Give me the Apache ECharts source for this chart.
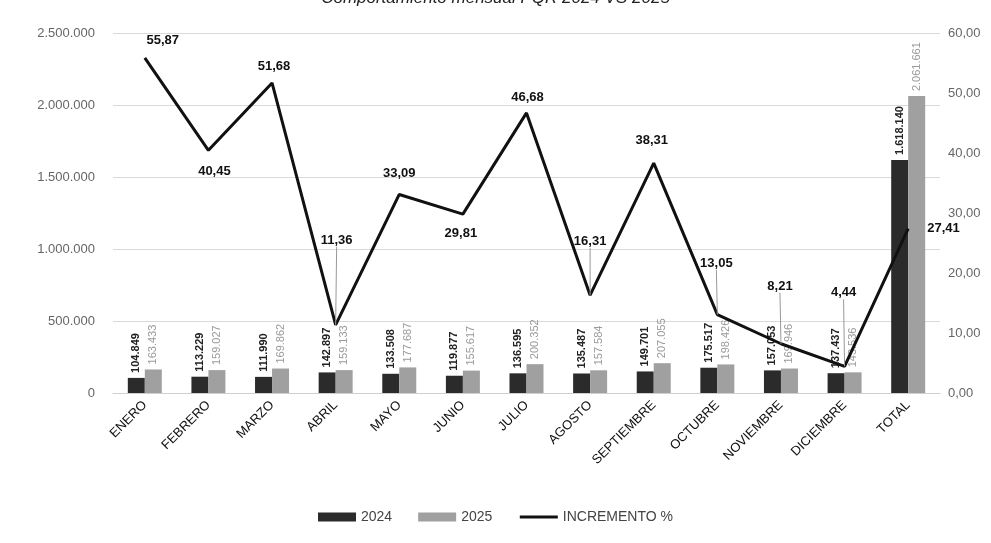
<!DOCTYPE html>
<html>
<head>
<meta charset="utf-8">
<script src="https://cdn.jsdelivr.net/npm/echarts@6/dist/echarts.min.js"></script>
<style>html,body{margin:0;padding:0;background:#fff;}#c{width:991px;height:543px;}</style>
</head>
<body>
<div id="c"></div>
<script>
const categories = ['ENERO','FEBRERO','MARZO','ABRIL','MAYO','JUNIO','JULIO','AGOSTO','SEPTIEMBRE','OCTUBRE','NOVIEMBRE','DICIEMBRE','TOTAL'];
const values2024 = [104849,113229,111990,142897,133508,119877,136595,135487,149701,175517,157053,137437,1618140];
const values2025 = [163433,159027,169862,159133,177687,155617,200352,157584,207055,198426,169946,143536,2061661];
const incremento = [55.87,40.45,51.68,11.36,33.09,29.81,46.68,16.31,38.31,13.05,8.21,4.44,27.41];
const leftTicks = [0,500000,1000000,1500000,2000000,2500000];
const rightTicks = [0,10,20,30,40,50,60];

function fmtInt(v){ return String(Math.round(v)).replace(/\B(?=(\d{3})+(?!\d))/g,'.'); }
function fmtDec(v){ return v.toFixed(2).replace('.',','); }

// label layout offsets for the line labels (style only)
const lblShift = [[18,-6],[6,33],[2,-5],[1,-73],[0,-10],[-2,31],[1,-4],[0,-42],[-2,-11],[-1,-40],[-1,-46],[-1,-62],[14,0]];
const lblLeader = [false,false,false,true,false,false,false,true,false,true,true,true,false];

const lineData = incremento.map((v,i)=>({
  value: v,
  label: { position: i===incremento.length-1 ? 'right' : 'top' },
  labelLine: { show: lblLeader[i] }
}));

const FONT = 'Liberation Sans, Arial, sans-serif';
const chart = echarts.init(document.getElementById('c'));
chart.setOption({
  animation: false,
  backgroundColor: '#fff',
  title: {
    text: 'Comportamiento mensual PQR 2024 VS 2025',
    left: 'center', top: -15,
    textStyle: { fontFamily: FONT, fontStyle: 'italic', fontWeight: 'normal', fontSize: 17, color: '#222' }
  },
  legend: {
    bottom: 14, left: 'center', itemGap: 26,
    textStyle: { fontFamily: FONT, fontSize: 14, color: '#444' },
    data: [
      { name: '2024', icon: 'rect', itemStyle: { color: '#2b2b2b' } },
      { name: '2025', icon: 'rect', itemStyle: { color: '#a0a0a0' } },
      { name: 'INCREMENTO %', itemStyle: { opacity: 0 }, lineStyle: { color: '#111', width: 3 } }
    ],
    itemWidth: 38, itemHeight: 9
  },
  grid: { left: 113, right: 51, top: 33, bottom: 150, containLabel: false },
  xAxis: {
    type: 'category', data: categories,
    axisLine: { lineStyle: { color: '#cfcfcf' } },
    axisTick: { show: false },
    axisLabel: { rotate: 45, fontFamily: FONT, fontSize: 13, color: '#111', margin: 10, interval: 0 }
  },
  yAxis: [
    {
      type: 'value', min: leftTicks[0], max: leftTicks[leftTicks.length-1], interval: leftTicks[1]-leftTicks[0],
      axisLine: { show: false }, axisTick: { show: false },
      splitLine: { lineStyle: { color: '#d9d9d9' } },
      axisLabel: { fontFamily: FONT, fontSize: 13, color: '#666', margin: 18, formatter: v => fmtInt(v) }
    },
    {
      type: 'value', min: rightTicks[0], max: rightTicks[rightTicks.length-1], interval: rightTicks[1]-rightTicks[0],
      axisLine: { show: false }, axisTick: { show: false },
      splitLine: { show: false },
      axisLabel: { fontFamily: FONT, fontSize: 13, color: '#666', margin: 8, formatter: v => fmtDec(v) }
    }
  ],
  series: [
    {
      name: '2024', type: 'bar', data: values2024, barWidth: 17, barGap: '0%',
      itemStyle: { color: '#2b2b2b' },
      label: { show: true, position: 'top', rotate: 90, align: 'left', verticalAlign: 'middle', distance: 5,
        fontFamily: FONT, fontSize: 11, fontWeight: 'bold', color: '#222', formatter: p => fmtInt(p.value) }
    },
    {
      name: '2025', type: 'bar', data: values2025, barWidth: 17,
      itemStyle: { color: '#a0a0a0' },
      label: { show: true, position: 'top', rotate: 90, align: 'left', verticalAlign: 'middle', distance: 5,
        fontFamily: FONT, fontSize: 11, color: '#9a9a9a', formatter: p => fmtInt(p.value) }
    },
    {
      name: 'INCREMENTO %', type: 'line', yAxisIndex: 1, data: lineData,
      symbol: 'circle', symbolSize: 0.01, showSymbol: true, z: 5,
      lineStyle: { color: '#111', width: 3 },
      itemStyle: { color: '#111' },
      label: { show: true, fontFamily: FONT, fontSize: 13, fontWeight: 'bold', color: '#111', formatter: p => fmtDec(p.value) },
      labelLine: { lineStyle: { color: '#999', width: 1 } },
      labelLayout: p => ({ dx: lblShift[p.dataIndex][0], dy: lblShift[p.dataIndex][1] })
    }
  ]
});
</script>
</body>
</html>
